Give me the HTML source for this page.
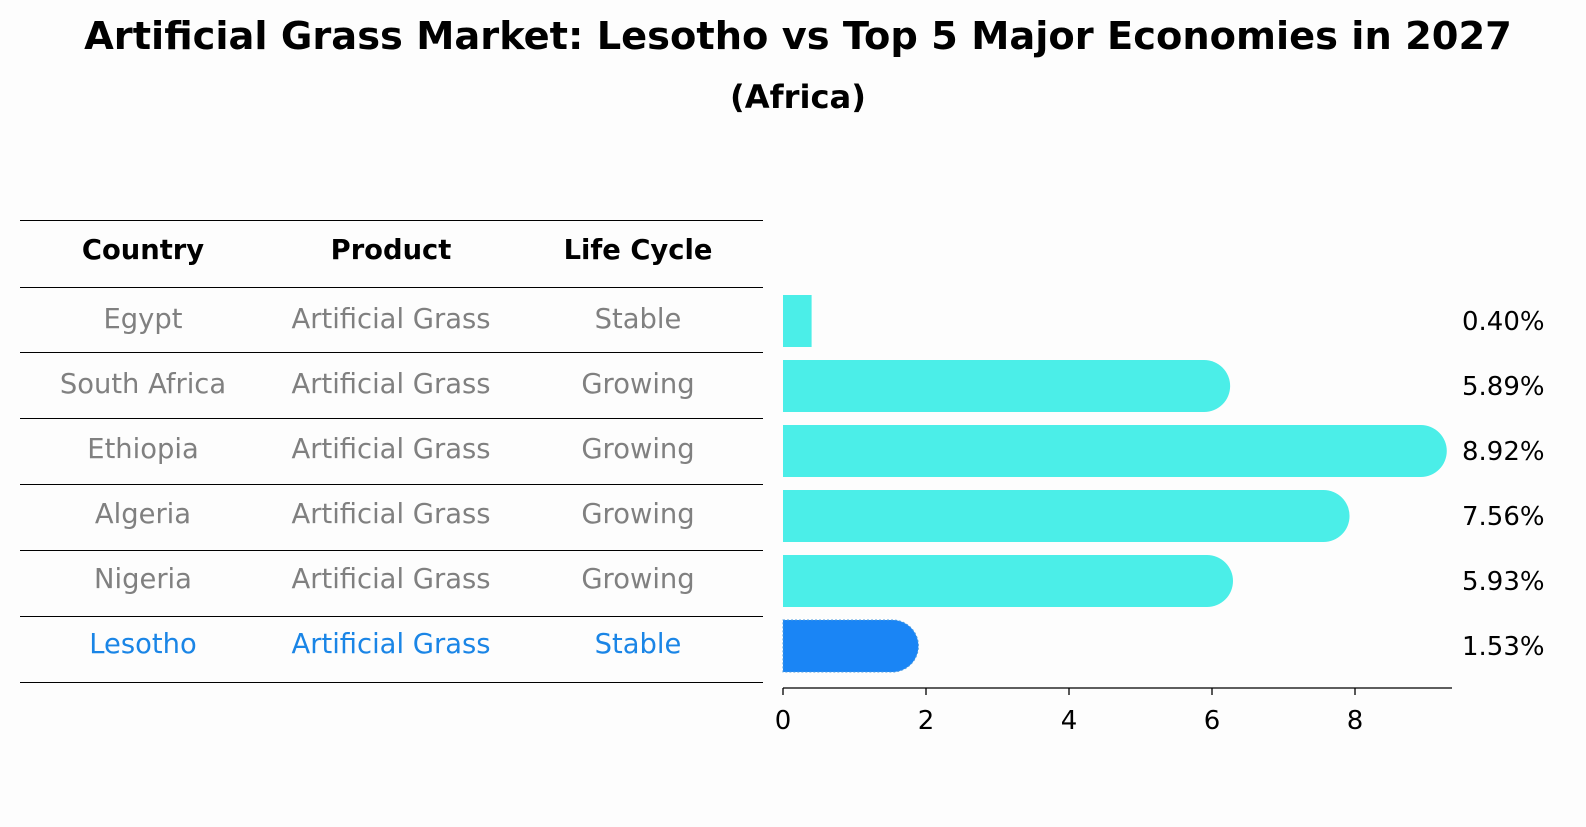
<!DOCTYPE html>
<html><head><meta charset="utf-8"><style>
body{margin:0;background:#fdfdfd;font-family:"DejaVu Sans","Liberation Sans",sans-serif;}
svg text{font-family:"DejaVu Sans","Liberation Sans",sans-serif;}
</style></head><body>
<svg id="chart" width="1586" height="823" xmlns="http://www.w3.org/2000/svg">
<rect width="1586" height="823" fill="#fdfdfd"/>
<text id="title" x="798" y="49" text-anchor="middle" font-size="26" font-weight="bold">Artificial Grass Market: Lesotho vs Top 5 Major Economies in 2027</text>
<text id="subtitle" x="798" y="108" text-anchor="middle" font-size="22" font-weight="bold">(Africa)</text>
<g id="table"></g>
<g id="bars"></g>
</svg>
<script>
const countries=["Egypt","South Africa","Ethiopia","Algeria","Nigeria","Lesotho"];
const products=["Artificial Grass","Artificial Grass","Artificial Grass","Artificial Grass","Artificial Grass","Artificial Grass"];
const lifeCycles=["Stable","Growing","Growing","Growing","Growing","Stable"];
const values=[0.40,5.89,8.92,7.56,5.93,1.53];
const valueLabels=["0.40%","5.89%","8.92%","7.56%","5.93%","1.53%"];
const ticks=[0,2,4,6,8];

const NS="http://www.w3.org/2000/svg";
function mk(tag,attrs,parent,text){const e=document.createElementNS(NS,tag);for(const k in attrs)e.setAttribute(k,attrs[k]);if(text!==undefined)e.textContent=text;parent.appendChild(e);return e;}
const x0=783,scale=71.5;
function xs(v){return x0+v*scale;}
function rowY(i){return 321+i*65;}

// font calibration
const svg=document.getElementById('chart');
const probe=mk('text',{x:0,y:-100,'font-size':19},svg,"Artificial Grass");
let k=199/(probe.getComputedTextLength()||199);
probe.remove();
if(!(k>0.7&&k<2))k=1;
const FS=19*k;
const title=document.getElementById('title');
const tl0=title.getComputedTextLength();
if(tl0>0)title.setAttribute('font-size',26*1428/tl0);
const sub=document.getElementById('subtitle');
const sl0=sub.getComputedTextLength();
if(sl0>0)sub.setAttribute('font-size',22*136/sl0);

const tbl=document.getElementById('table');
const lineYs=[220,287,352,418,484,550,616,682];
lineYs.forEach((y,i)=>{const l=mk('line',{x1:20,x2:763,y1:y+0.5,y2:y+0.5,stroke:'#000','stroke-width':1},tbl);

});
const colX=[143,391,638];
["Country","Product","Life Cycle"].forEach((h,i)=>{const t=mk('text',{x:colX[i],y:259,'text-anchor':'middle','font-size':FS,'font-weight':'bold'},tbl,h);

});
countries.forEach((c,i)=>{
 const col=c==="Lesotho"?"#1a85e6":"#808080";
 const y=rowY(i)+5;
 [c,products[i],lifeCycles[i]].forEach((s,j)=>{const t=mk('text',{x:colX[j],y:y+2,'text-anchor':'middle','font-size':FS,fill:col},tbl,s);
 
 });
});

const g=document.getElementById('bars');
const h=52,r=26;
values.forEach((v,i)=>{
 const cy=rowY(i),top=cy-h/2,end=xs(v);
 const isL=countries[i]==="Lesotho";
 const col=isL?"#1a85f5":"#4beee8";
 let p;
 if(end-x0>2*r){
  p=mk('path',{d:`M${x0},${top} H${end} A${r},${r} 0 0 1 ${end},${top+h} H${x0} Z`,fill:col},g);
 } else {
  p=mk('rect',{x:x0,y:top,width:end-x0,height:h,fill:col},g);
 }
 if(isL){p.setAttribute('stroke','#4a9be0');p.setAttribute('stroke-dasharray','2,2');p.setAttribute('stroke-width','1');}
 
 
 const t=mk('text',{x:1462,y:cy+9,'font-size':FS*0.95},g,valueLabels[i]);
 
 
});
const ax=mk('line',{x1:x0,x2:1452,y1:688,y2:688,stroke:'#000','stroke-width':1.3},g);


ticks.forEach(tv=>{
 const tl=mk('line',{x1:xs(tv),x2:xs(tv),y1:688,y2:695,stroke:'#000','stroke-width':1.3},g);
 
 
 const t=mk('text',{x:xs(tv),y:729,'text-anchor':'middle','font-size':FS*0.95},g,String(tv));
 
 
});
</script>
</body></html>
